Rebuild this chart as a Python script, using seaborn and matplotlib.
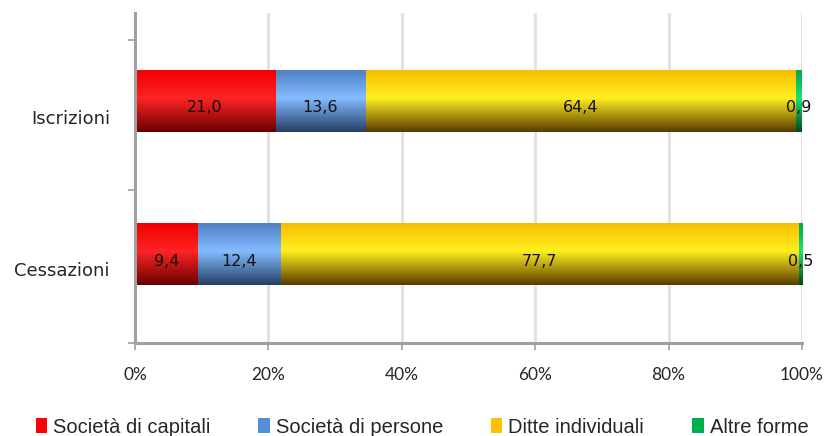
import numpy as np
import pandas as pd
import matplotlib
matplotlib.use("Agg")
import matplotlib.pyplot as plt
import matplotlib.colors as mcolors
from matplotlib.patches import Patch
import seaborn as sns

categories = ["Iscrizioni", "Cessazioni"]
series = ["Società di capitali", "Società di persone", "Ditte individuali", "Altre forme"]
capitali = [21.0, 9.4]
persone = [13.6, 12.4]
ditte = [64.4, 77.7]
altre = [0.9, 0.5]
xticks = [0, 20, 40, 60, 80, 100]
xticklabels = ["0%", "20%", "40%", "60%", "80%", "100%"]

base_colors = ["#ff0000", "#558ed5", "#ffc000", "#00b050"]
# (top, highlight, bottom) for gradient shading
grad_colors = [
    ("#f00000", "#ff2424", "#6a0000"),
    ("#4f81c4", "#84bcff", "#263f66"),
    ("#f8be00", "#fff020", "#5a3c00"),
    ("#00a84c", "#20e070", "#004a20"),
]

sns.set_theme(style="white")
plt.rcParams["font.family"] = ["DejaVu Sans"]

fig = plt.figure(figsize=(8.28, 4.36), dpi=100)
ax = fig.add_axes([135 / 828, 1 - 343 / 436, (802 - 135) / 828, (343 - 13) / 436])

vals = [capitali, persone, ditte, altre]
df = pd.DataFrame({"cat": categories})
cum = np.zeros(len(categories))
lefts = []
for s, v in zip(series, vals):
    lefts.append(cum.copy())
    cum = cum + np.array(v)
    df[s] = cum.copy()

# draw stacked bars (largest cumulative first)
for i in range(len(series) - 1, -1, -1):
    sns.barplot(data=df, x=series[i], y="cat", orient="h", color=base_colors[i],
                width=0.40, ax=ax, saturation=1, edgecolor="none", linewidth=0)

def grad_img(c_top, c_mid, c_bot, n=64):
    t = np.linspace(0, 1, n)
    top = np.array(mcolors.to_rgb(c_top))
    mid = np.array(mcolors.to_rgb(c_mid))
    bot = np.array(mcolors.to_rgb(c_bot))
    img = np.zeros((n, 1, 3))
    for k, tt in enumerate(t):
        if tt < 0.45:
            f = tt / 0.45
            c = top * (1 - f) + mid * f
        else:
            f = (tt - 0.45) / 0.55
            c = mid * (1 - f) + bot * f
        img[k, 0] = c
    return img

containers = ax.containers  # drawn order: altre, ditte, persone, capitali
for ci, cont in enumerate(containers):
    si = len(series) - 1 - ci
    img = grad_img(*grad_colors[si])
    for j, p in enumerate(cont.patches):
        x0 = lefts[si][j]
        x1 = p.get_x() + p.get_width()
        y0 = p.get_y()
        y1 = y0 + p.get_height()
        ax.imshow(img, extent=(x0, x1, y1, y0), aspect="auto", zorder=3,
                  interpolation="bilinear")
        cx = (x0 + x1) / 2
        ax.text(cx, (y0 + y1) / 2 + 0.045, f"{vals[si][j]:.1f}".replace(".", ","),
                ha="center", va="center", fontsize=11.5, color="#111111", zorder=5)

ax.set_xlim(0, 100)
ax.set_ylim(1.58, -0.575)
ax.set_xlabel("")
ax.set_ylabel("")
ax.set_xticks(xticks)
ax.set_xticklabels(xticklabels, fontsize=12.5, family=["Lato", "DejaVu Sans"])
ax.set_yticks([0.105, 1.1])
ax.set_yticklabels(categories, fontsize=13)
ax.set_yticks([-0.4, 0.58, 1.58], minor=True)
ax.tick_params(axis="y", which="major", length=0, pad=18)
ax.tick_params(axis="y", which="minor", length=5, width=1.2, color="#a0a0a0", direction="out", left=True)
ax.tick_params(axis="x", length=5, width=1.2, color="#a0a0a0", direction="out", bottom=True, pad=12)

ax.grid(False)
for xv in xticks[1:]:
    ax.axvline(xv, color="#e2e2e2", lw=2.2, zorder=0)

for side in ["top", "right"]:
    ax.spines[side].set_visible(False)
for side in ["left", "bottom"]:
    ax.spines[side].set_color("#a0a0a0")
    ax.spines[side].set_linewidth(2.2)
    ax.spines[side].set_zorder(6)

handles = [Patch(facecolor=c, edgecolor="none") for c in base_colors]
leg = fig.legend(handles, series, loc="center", bbox_to_anchor=(422 / 828, 1 - 427 / 436),
                 ncol=4, frameon=False, handlelength=0.55, handleheight=0.75,
                 handletextpad=0.3, columnspacing=2.4,
                 prop={"family": ["Liberation Sans", "DejaVu Sans"], "size": 14.5})

fig.savefig("out.png", dpi=100)
